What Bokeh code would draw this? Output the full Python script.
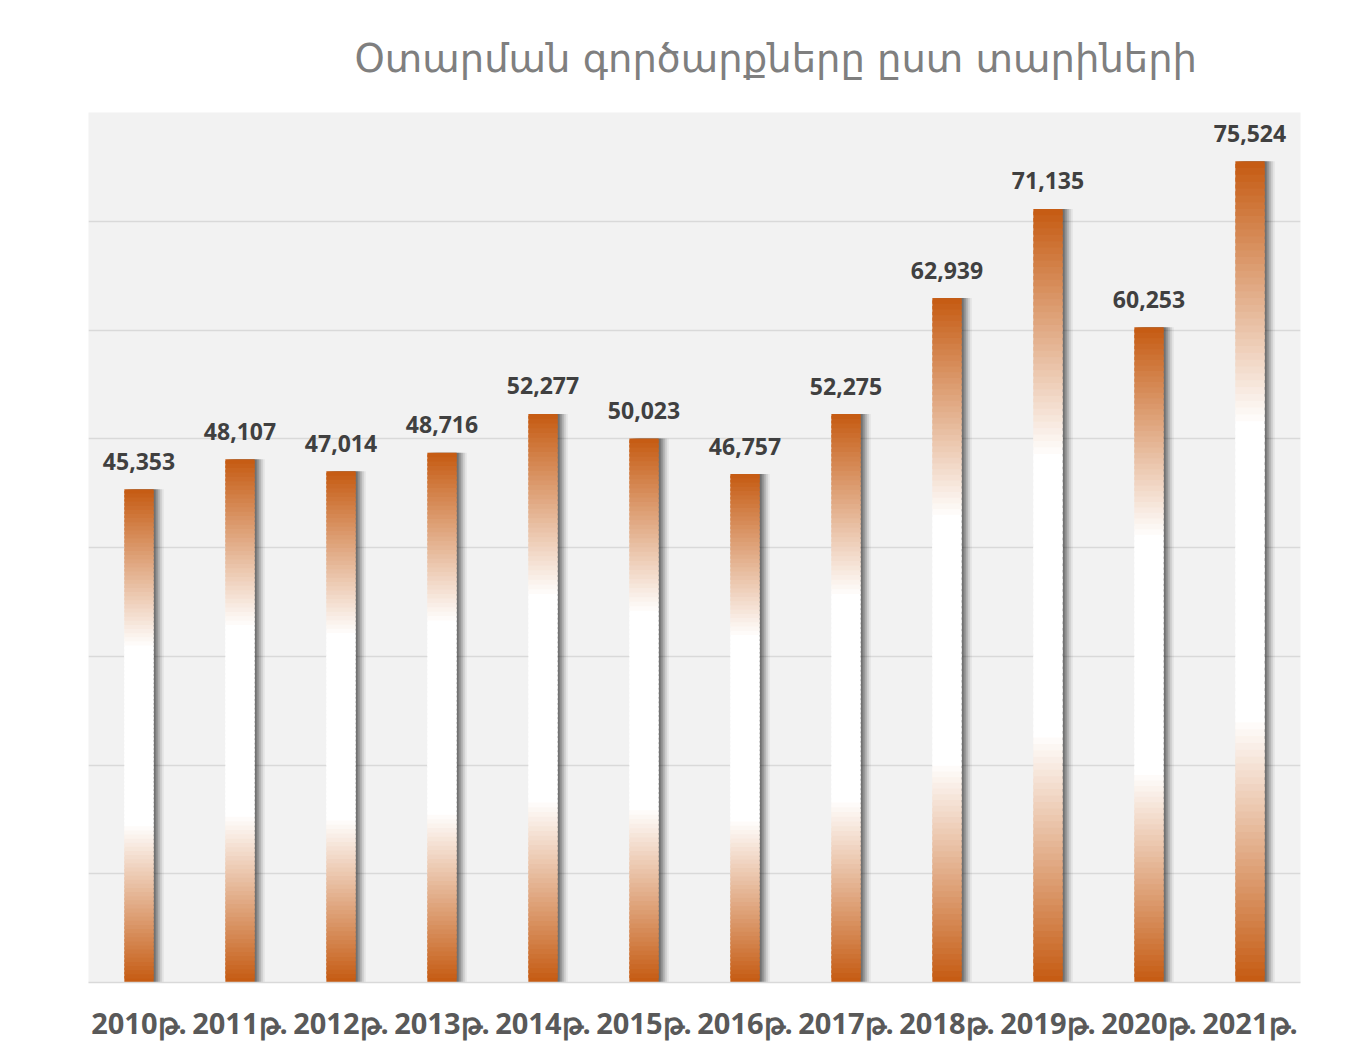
from bokeh.plotting import figure
from bokeh.models import ColumnDataSource, FactorRange, Range1d, SingleIntervalTicker
from bokeh.transform import dodge
from bokeh.embed import file_html
from bokeh.resources import INLINE
from bokeh.core.properties import value

title_text = "Օտարման գործարքները ըստ տարիների"
years = ["2010թ.", "2011թ.", "2012թ.", "2013թ.", "2014թ.", "2015թ.",
         "2016թ.", "2017թ.", "2018թ.", "2019թ.", "2020թ.", "2021թ."]
values = [45353, 48107, 47014, 48716, 52277, 50023, 46757, 52275, 62939, 71135, 60253, 75524]
y_max = 80000
grid_step = 10000

ORANGE = (197, 90, 17)
BAR_W = 0.29
N_SLICES = 120


def grad_color(f):
    # f: 0 at bar top, 1 at bar bottom; orange at both ends, white in the middle
    d = min(f, 1 - f)
    w = min(d / 0.32, 1.0)
    c = [round(o + (255 - o) * w) for o in ORANGE]
    return "#%02x%02x%02x" % tuple(c)


sx, sb, st, sc = [], [], [], []
for yr, v in zip(years, values):
    for i in range(N_SLICES):
        sx.append(yr)
        sb.append(v * i / N_SLICES)
        st.append(min(v, v * (i + 1.6) / N_SLICES))
        sc.append(grad_color(1 - (i + 0.5) / N_SLICES))
slices = ColumnDataSource(dict(x=sx, bottom=sb, top=st, color=sc))

src = ColumnDataSource(dict(years=years, values=values,
                            labels=[f"{v:,}" for v in values]))

p = figure(width=1356, height=1045,
           x_range=FactorRange(*years), y_range=Range1d(0, y_max),
           output_backend="svg", toolbar_location=None,
           min_border_left=88, min_border_right=56,
           min_border_top=112, min_border_bottom=63)

p.background_fill_color = "#F2F2F2"
p.border_fill_color = "white"
p.outline_line_color = None

# soft shadows to the right of the bars
for off, a in [(0.02, 0.20), (0.04, 0.18), (0.06, 0.14), (0.08, 0.10), (0.10, 0.06)]:
    p.vbar(x=dodge("years", off, range=p.x_range), top="values", width=BAR_W,
           source=src, fill_color="#000000", fill_alpha=a, line_color=None)

# gradient bars
p.vbar(x="x", bottom="bottom", top="top", width=BAR_W, source=slices,
       fill_color="color", line_color=None)

p.text(x="years", y="values", text="labels", source=src,
       text_align="center", text_baseline="alphabetic", y_offset=-28,
       text_font=value("Open Sans"), text_font_style="bold",
       text_font_size="23px", text_color="#404040")

p.yaxis.visible = False
p.ygrid.ticker = SingleIntervalTicker(interval=grid_step)
p.ygrid.grid_line_color = "#D9D9D9"
p.ygrid.grid_line_width = 1.5
p.xgrid.grid_line_color = None

xa = p.xaxis[0]
xa.axis_line_color = "#D9D9D9"
xa.axis_line_width = 1.5
xa.major_tick_line_color = None
xa.minor_tick_line_color = None
xa.major_label_standoff = 14
xa.major_label_text_font = "Open Sans"
xa.major_label_text_font_style = "bold"
xa.major_label_text_font_size = "29px"
xa.major_label_text_color = "#595959"

p.title.text = title_text
p.title.align = "left"
p.title.offset = 266
p.title.standoff = 64
p.title.text_font = "DejaVu Sans"
p.title.text_font_style = "normal"
p.title.text_font_size = "38.5px"
p.title.text_color = "#7F7F7F"

open("out.html", "w").write(file_html(p, INLINE))
